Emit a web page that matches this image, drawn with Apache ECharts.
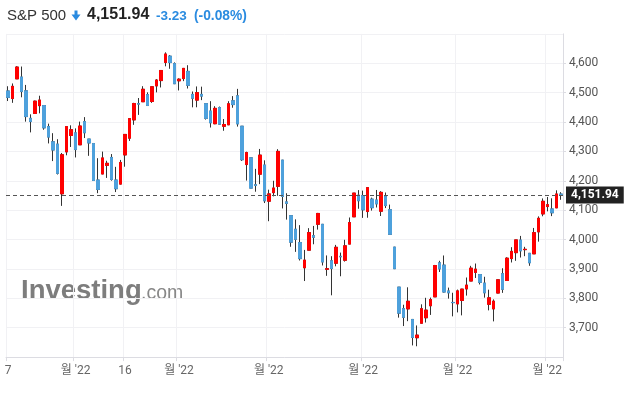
<!DOCTYPE html>
<html>
<head>
<meta charset="utf-8">
<script src="https://cdn.jsdelivr.net/npm/echarts@6/dist/echarts.min.js"></script>
<style>
html,body{margin:0;padding:0;background:#fff;}
#chart{width:627px;height:393px;}
</style>
</head>
<body>
<div id="chart"></div>
<script>
// S&P 500 daily candles, Feb 7 2022 – Aug 4 2022
const dates = [
'2022-02-07','2022-02-08','2022-02-09','2022-02-10','2022-02-11','2022-02-14','2022-02-15','2022-02-16','2022-02-17','2022-02-18','2022-02-22','2022-02-23','2022-02-24','2022-02-25','2022-02-28',
'2022-03-01','2022-03-02','2022-03-03','2022-03-04','2022-03-07','2022-03-08','2022-03-09','2022-03-10','2022-03-11','2022-03-14','2022-03-15','2022-03-16','2022-03-17','2022-03-18','2022-03-21','2022-03-22','2022-03-23','2022-03-24','2022-03-25','2022-03-28','2022-03-29','2022-03-30','2022-03-31',
'2022-04-01','2022-04-04','2022-04-05','2022-04-06','2022-04-07','2022-04-08','2022-04-11','2022-04-12','2022-04-13','2022-04-14','2022-04-18','2022-04-19','2022-04-20','2022-04-21','2022-04-22','2022-04-25','2022-04-26','2022-04-27','2022-04-28','2022-04-29',
'2022-05-02','2022-05-03','2022-05-04','2022-05-05','2022-05-06','2022-05-09','2022-05-10','2022-05-11','2022-05-12','2022-05-13','2022-05-16','2022-05-17','2022-05-18','2022-05-19','2022-05-20','2022-05-23','2022-05-24','2022-05-25','2022-05-26','2022-05-27','2022-05-31',
'2022-06-01','2022-06-02','2022-06-03','2022-06-06','2022-06-07','2022-06-08','2022-06-09','2022-06-10','2022-06-13','2022-06-14','2022-06-15','2022-06-16','2022-06-17','2022-06-21','2022-06-22','2022-06-23','2022-06-24','2022-06-27','2022-06-28','2022-06-29','2022-06-30',
'2022-07-01','2022-07-05','2022-07-06','2022-07-07','2022-07-08','2022-07-11','2022-07-12','2022-07-13','2022-07-14','2022-07-15','2022-07-18','2022-07-19','2022-07-20','2022-07-21','2022-07-22','2022-07-25','2022-07-26','2022-07-27','2022-07-28','2022-07-29',
'2022-08-01','2022-08-02','2022-08-03','2022-08-04'
];
const open = [
4505.75,4480.02,4547.00,4553.24,4506.27,4412.61,4429.28,4455.75,4456.06,4384.57,4332.74,4324.93,4155.77,4298.38,4354.17,
4363.14,4322.56,4401.31,4342.12,4327.01,4202.66,4223.10,4252.55,4279.50,4202.75,4188.82,4288.14,4345.11,4407.34,4462.40,4469.10,4493.10,4469.98,4522.91,4541.09,4602.86,4624.20,4599.02,
4540.32,4547.97,4572.45,4494.17,4474.65,4494.15,4462.64,4437.59,4394.30,4449.12,4385.63,4390.63,4472.26,4489.17,4385.83,4255.34,4278.14,4186.52,4222.58,4253.75,
4130.61,4159.78,4181.18,4270.43,4128.17,4081.27,4035.18,3990.08,3903.95,3963.90,4013.02,4052.00,4051.98,3899.00,3927.76,3919.42,3942.94,3929.59,3984.60,4077.43,4151.09,
4149.78,4095.41,4137.57,4134.72,4096.47,4147.12,4101.65,3974.39,3838.15,3764.79,3764.05,3728.18,3665.90,3715.31,3733.89,3774.71,3805.00,3920.76,3913.00,3825.09,3785.99,
3781.00,3792.61,3831.98,3858.85,3888.26,3880.94,3851.95,3779.67,3763.99,3818.00,3883.79,3860.73,3935.32,3955.47,3998.44,3965.72,3953.22,3951.43,4026.13,4087.33,
4112.38,4104.21,4107.96,4154.85
];
const high = [
4521.86,4531.32,4590.03,4588.92,4526.33,4426.22,4472.77,4489.55,4456.06,4394.60,4362.12,4341.51,4294.73,4385.34,4388.84,
4378.45,4401.48,4416.78,4342.12,4327.01,4276.94,4299.40,4268.28,4291.01,4247.57,4271.05,4357.86,4412.67,4465.40,4481.75,4522.00,4501.07,4520.58,4546.03,4575.65,4637.30,4627.77,4603.07,
4548.70,4583.50,4593.45,4503.94,4521.16,4520.41,4464.35,4471.00,4453.92,4452.77,4410.31,4471.03,4488.29,4512.94,4385.83,4299.02,4278.14,4240.71,4308.45,4269.68,
4169.81,4200.10,4307.66,4270.43,4157.69,4081.27,4068.82,4049.09,3964.80,4038.88,4046.46,4090.72,4051.98,3945.96,3943.42,3981.88,3955.68,3999.33,4075.14,4158.49,4168.34,
4166.54,4177.51,4142.67,4168.78,4164.86,4160.14,4119.10,3974.39,3838.15,3778.18,3837.56,3728.18,3707.71,3779.65,3801.79,3802.58,3913.65,3927.72,3945.86,3836.50,3818.99,
3829.82,3832.19,3870.91,3910.63,3918.50,3880.94,3873.41,3829.44,3796.41,3863.62,3902.44,3939.81,3974.13,3999.29,4012.44,3975.30,3953.22,4039.56,4078.95,4140.15,
4144.95,4140.47,4167.66,4161.29
];
const low = [
4471.47,4465.40,4547.00,4484.31,4401.41,4364.84,4429.28,4429.68,4373.81,4327.22,4267.11,4221.51,4114.65,4286.83,4315.12,
4279.54,4322.56,4345.56,4284.98,4199.85,4157.87,4223.10,4209.80,4200.49,4161.72,4187.90,4248.00,4335.65,4390.57,4424.30,4469.10,4455.81,4465.17,4501.07,4517.69,4589.66,4581.32,4530.41,
4507.57,4539.21,4514.17,4450.04,4450.30,4474.60,4408.38,4381.34,4392.70,4390.37,4370.30,4390.63,4448.76,4384.47,4267.62,4200.82,4175.04,4162.90,4188.63,4124.28,
4062.51,4147.08,4148.91,4106.01,4067.91,3975.48,3958.17,3928.82,3858.87,3963.90,3983.99,4033.93,3911.91,3876.58,3810.32,3909.04,3875.13,3925.03,3984.60,4077.43,4104.88,
4073.85,4074.37,4098.67,4109.18,4080.19,4107.20,4017.17,3900.16,3734.30,3705.68,3722.30,3639.77,3636.87,3715.31,3717.69,3743.52,3805.00,3889.66,3820.14,3799.02,3738.67,
3752.10,3742.06,3809.37,3858.85,3869.34,3847.22,3802.36,3759.07,3721.56,3817.18,3818.63,3860.73,3922.03,3927.64,3938.85,3943.46,3910.74,3951.43,3992.97,4079.22,
4096.02,4079.81,4107.96,4135.42
];
const close = [
4483.87,4521.54,4587.18,4504.08,4418.64,4401.67,4471.07,4475.01,4380.26,4348.87,4304.76,4225.50,4288.70,4384.65,4373.94,
4306.26,4386.54,4363.49,4328.87,4201.09,4170.70,4277.88,4259.52,4204.31,4173.11,4262.45,4357.86,4411.67,4463.12,4461.18,4511.61,4456.24,4520.16,4543.06,4575.52,4631.60,4602.45,4530.41,
4545.86,4582.64,4525.12,4481.15,4500.21,4488.28,4412.53,4397.45,4446.59,4392.59,4391.69,4462.21,4459.45,4393.66,4271.78,4296.12,4175.20,4183.96,4287.50,4131.93,
4155.38,4175.48,4300.17,4146.87,4123.34,3991.24,4001.05,3935.18,3930.08,4023.89,4008.01,4088.85,3923.68,3900.79,3901.36,3973.75,3941.48,3978.73,4057.84,4158.24,4132.15,
4101.23,4176.82,4108.54,4121.43,4160.68,4115.77,4017.82,3900.86,3749.63,3735.48,3789.99,3666.77,3674.84,3764.79,3759.89,3795.73,3911.74,3900.11,3821.55,3818.83,3785.38,
3825.33,3831.39,3845.08,3902.62,3899.38,3854.43,3818.80,3801.78,3790.38,3863.16,3830.85,3936.69,3959.90,3998.95,3961.63,3966.84,3921.05,4023.61,4072.43,4130.29,
4118.63,4091.19,4155.17,4151.94
];
// x-axis tick labels (category index -> text)
const tickIdx = [0, 15, 26, 38, 58, 79, 100, 120];
const tickText = ['7', "월 '22", '16', "월 '22", "월 '22", "월 '22", "월 '22", "월 '22"];
const lastPrice = 4151.94;
const lastChange = '-3.23';
const lastChangePct = '(-0.08%)';

const UP = '#ff0000', DOWN = '#4ea1dc', WICK = '#333333', BLUE = '#2a8be0';

const wickData = dates.map((d, i) => [open[i], close[i], low[i], high[i]]);
const bodyData = dates.map((d, i) => [open[i], close[i], Math.min(open[i], close[i]), Math.max(open[i], close[i])]);
const showTick = (i) => tickIdx.indexOf(i) >= 0;

const chart = echarts.init(document.getElementById('chart'), null, {renderer: 'canvas'});
chart.setOption({
  animation: false,
  backgroundColor: '#fff',
  grid: {left: 6, right: 64, top: 33.9, bottom: 35.9},
  xAxis: {
    type: 'category',
    data: dates,
    boundaryGap: true,
    axisLine: {lineStyle: {color: '#dcdce2', width: 1}},
    axisTick: {show: true, alignWithLabel: false, length: 4, interval: (i) => showTick(i), lineStyle: {color: '#dcdce2'}},
    axisLabel: {
      interval: (i) => showTick(i),
      formatter: (v, i) => { const k = tickIdx.indexOf(i); return k >= 0 ? tickText[k] : ''; },
      color: '#666', fontSize: 12, fontFamily: 'Roboto, "Noto Sans CJK KR", sans-serif', margin: 8
    },
    splitLine: {show: true, interval: (i) => showTick(i), lineStyle: {color: '#f1f1f4', width: 1}}
  },
  yAxis: {
    type: 'value',
    position: 'right',
    min: 3600, max: 4700, interval: 100,
    axisLine: {show: true, lineStyle: {color: '#dcdce2'}},
    axisTick: {show: true, length: 3, lineStyle: {color: '#dcdce2'}},
    axisLabel: {
      showMinLabel: false, showMaxLabel: false,
      formatter: (v) => v.toLocaleString('en-US'),
      color: '#555', fontSize: 12, fontFamily: 'Roboto, sans-serif', margin: 6
    },
    splitLine: {show: true, lineStyle: {color: '#f1f1f4', width: 1}}
  },
  graphic: [
    {type: 'text', left: 7, top: 8, style: {text: 'S&P 500', font: '15px "Liberation Sans", Arial, sans-serif', fill: '#333'}},
    {type: 'polygon', shape: {points: [[74.5, 10.5], [77.5, 10.5], [77.5, 14.5], [80.5, 14.5], [76, 20.5], [71.5, 14.5], [74.5, 14.5]]}, style: {fill: BLUE}},
    {type: 'text', left: 87, top: 7, style: {text: '4,151.94', font: 'bold 16px "Liberation Sans", Arial, sans-serif', fill: '#222'}},
    {type: 'text', left: 156, top: 9, style: {text: lastChange, font: 'bold 13.5px "Liberation Sans", Arial, sans-serif', fill: BLUE}},
    {type: 'text', left: 194, top: 9, style: {text: lastChangePct, font: 'bold 13.8px "Liberation Sans", Arial, sans-serif', fill: BLUE}},
    {type: 'text', left: 21, top: 277, z: -1, style: {text: 'Investing', font: 'bold 27.5px "Liberation Sans", Arial, sans-serif', fill: '#7d7d7d'}},
    {type: 'text', left: 141, top: 284, z: -1, style: {text: '.com', font: '19.5px "Liberation Sans", Arial, sans-serif', fill: '#888'}}
  ],
  series: [
    {
      type: 'candlestick',
      data: wickData,
      barWidth: 3,
      itemStyle: {color: WICK, color0: WICK, borderColor: WICK, borderColor0: WICK, borderWidth: 1},
      silent: true
    },
    {
      type: 'candlestick',
      data: bodyData,
      barWidth: 3,
      itemStyle: {color: UP, color0: DOWN, borderColor: UP, borderColor0: DOWN, borderWidth: 1},
      silent: true,
      markLine: {
        silent: true,
        symbol: ['none', 'none'],
        lineStyle: {color: '#555', type: [4, 3], width: 1},
        label: {
          show: true, position: 'end', distance: 3,
          formatter: () => lastPrice.toLocaleString('en-US', {minimumFractionDigits: 2}),
          backgroundColor: '#222', color: '#fff', fontWeight: 'bold', fontSize: 12,
          fontFamily: 'Roboto, sans-serif', padding: [3, 5, 2, 5], borderRadius: 0
        },
        data: [{yAxis: lastPrice}]
      }
    }
  ]
});
</script>
</body>
</html>
